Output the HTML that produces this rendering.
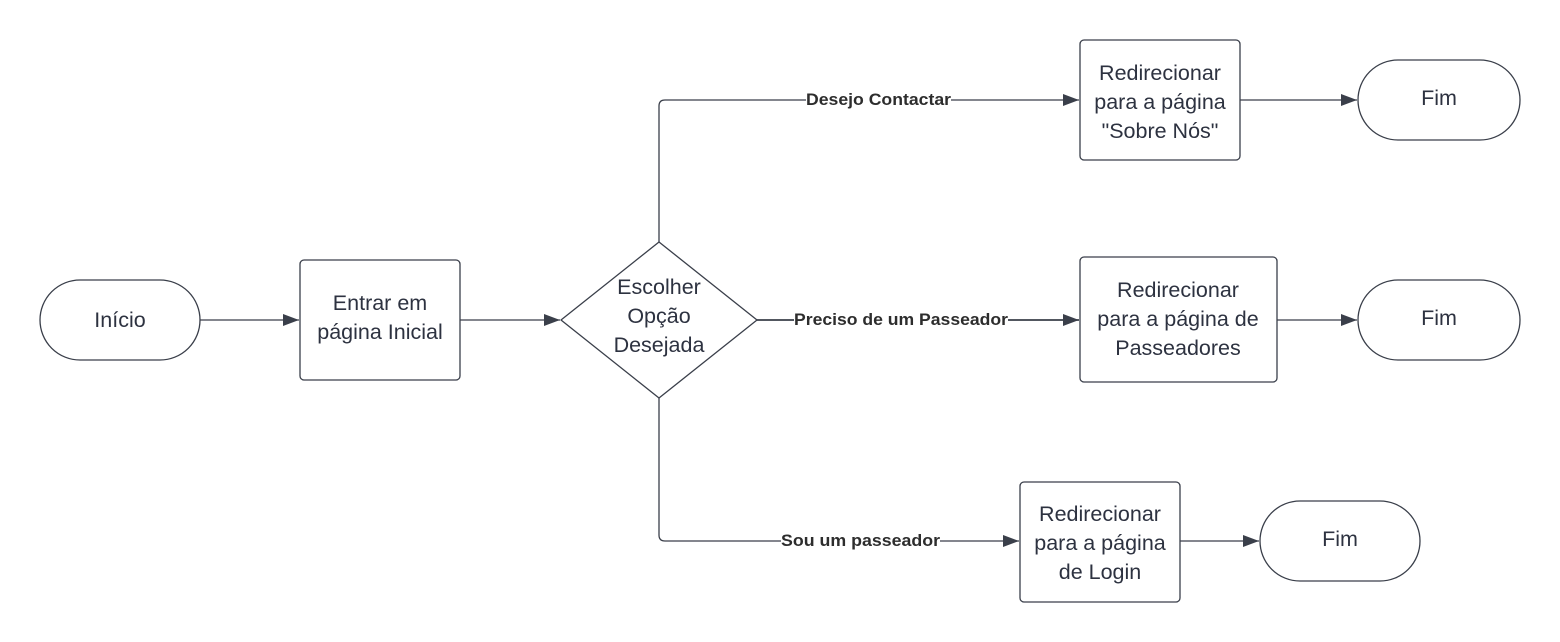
<!DOCTYPE html>
<html><head><meta charset="utf-8"><style>
html,body{margin:0;padding:0;background:#fff;}
svg{display:block;}
.t{font-family:"Liberation Sans",sans-serif;font-size:21.5px;fill:#2d3240;text-anchor:middle;}
.l{font-family:"Liberation Sans",sans-serif;font-size:16.5px;font-weight:bold;fill:#2d2d2d;}
.s{fill:#fff;stroke:#3a3f4a;stroke-width:1.3;}
.c{fill:none;stroke:#3a3f4a;stroke-width:1.3;}
</style></head><body>
<svg width="1560" height="642" viewBox="0 0 1560 642">
<defs><marker id="a" markerWidth="16" markerHeight="12" refX="16" refY="6" orient="auto" markerUnits="userSpaceOnUse"><path d="M0,0 L16,6 L0,12 z" fill="#3a3f4a"/></marker></defs>
<line class="c" x1="200" y1="320" x2="299" y2="320" marker-end="url(#a)"/>
<line class="c" x1="460" y1="320" x2="560" y2="320" marker-end="url(#a)"/>
<path class="c" d="M659,242 V106 Q659,100 665,100 H1079" marker-end="url(#a)"/>
<line class="c" x1="757" y1="320" x2="1079" y2="320" marker-end="url(#a)" style="stroke-width:1.8"/>
<path class="c" d="M659,398 V535 Q659,541 665,541 H1019" marker-end="url(#a)"/>
<line class="c" x1="1240" y1="100" x2="1357" y2="100" marker-end="url(#a)"/>
<line class="c" x1="1277" y1="320" x2="1357" y2="320" marker-end="url(#a)"/>
<line class="c" x1="1180" y1="541" x2="1259" y2="541" marker-end="url(#a)"/>
<rect x="806" y="90" width="145" height="18" fill="#fff"/>
<text class="l" x="806" y="105" textLength="145" lengthAdjust="spacingAndGlyphs">Desejo Contactar</text>
<rect x="794" y="310" width="214" height="18" fill="#fff"/>
<text class="l" x="794" y="325" textLength="214" lengthAdjust="spacingAndGlyphs">Preciso de um Passeador</text>
<rect x="781" y="531" width="159" height="18" fill="#fff"/>
<text class="l" x="781" y="546" textLength="159" lengthAdjust="spacingAndGlyphs">Sou um passeador</text>
<rect class="s" x="40" y="280" width="160" height="80" rx="40"/>
<text class="t" x="120" y="327">Início</text>
<rect class="s" x="300" y="260" width="160" height="120" rx="4"/>
<text class="t" x="380" y="310">Entrar em</text>
<text class="t" x="380" y="339">página Inicial</text>
<path class="s" d="M659,242 L757,320 L659,398 L561,320 Z" stroke-linejoin="round"/>
<text class="t" x="659" y="294">Escolher</text>
<text class="t" x="659" y="323">Opção</text>
<text class="t" x="659" y="352">Desejada</text>
<rect class="s" x="1080" y="40" width="160" height="120" rx="4"/>
<text class="t" x="1160" y="80">Redirecionar</text>
<text class="t" x="1160" y="109">para a página</text>
<text class="t" x="1160" y="138">"Sobre Nós"</text>
<rect class="s" x="1358" y="60" width="162" height="80" rx="40"/>
<text class="t" x="1439" y="105">Fim</text>
<rect class="s" x="1080" y="257" width="197" height="125" rx="4"/>
<text class="t" x="1178" y="297">Redirecionar</text>
<text class="t" x="1178" y="326">para a página de</text>
<text class="t" x="1178" y="355">Passeadores</text>
<rect class="s" x="1358" y="280" width="162" height="80" rx="40"/>
<text class="t" x="1439" y="325">Fim</text>
<rect class="s" x="1020" y="482" width="160" height="120" rx="4"/>
<text class="t" x="1100" y="521">Redirecionar</text>
<text class="t" x="1100" y="550">para a página</text>
<text class="t" x="1100" y="579">de Login</text>
<rect class="s" x="1260" y="501" width="160" height="80" rx="40"/>
<text class="t" x="1340" y="546">Fim</text>
</svg>
</body></html>
